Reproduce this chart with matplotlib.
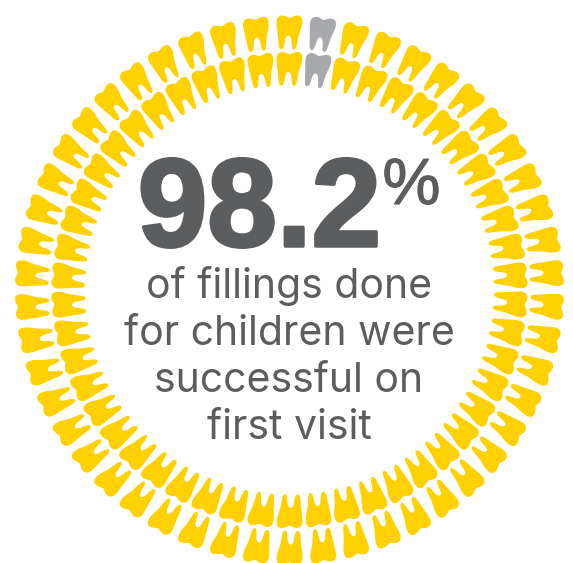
import numpy as np
import matplotlib.pyplot as plt
import matplotlib.patheffects as pe
from matplotlib.path import Path
from matplotlib.patches import PathPatch
from matplotlib.transforms import Affine2D

plt.rcParams['font.family'] = ['Inter', 'Liberation Sans', 'DejaVu Sans']

# teeth per ring, outer then inner, and how many of them are grey
ring_counts = [50, 50]
grey_counts = [1, 1]
share = '98.2'
caption = ['of fillings done', 'for children were', 'successful on', 'first visit']

YELLOW = '#ffd100'
GREY = '#a7a9ac'
DARK = '#5c5d5f'

W, H = 573, 563
CX, CY = 289.5, 290
RADII = [257.5, 221]

# one tooth, crown pointing up, roots down, around the origin
tooth_pts = [
    (0, 14.6),
    (2.5, 15.4), (5, 17), (8, 17),
    (11.5, 17), (13, 14.5), (12.8, 10.5),
    (12.6, 5.5), (10.6, 2), (9.2, -3),
    (8, -8), (7.6, -17), (4.6, -17),
    (2, -17), (2.4, -11), (1.8, -7.5),
    (1.4, -5), (0.6, -3), (-1.4, -3),
    (-3.4, -3), (-3.8, -5.5), (-4.4, -8),
    (-5, -11), (-5.4, -16.6), (-8.2, -16.6),
    (-11.4, -16.6), (-11, -9), (-11.6, -4),
    (-12.2, 1), (-13, 6), (-13, 10.5),
    (-13, 14.5), (-10.5, 17), (-7, 17),
    (-4.5, 17), (-2.5, 15.4), (0, 14.6),
]
tooth_codes = [Path.MOVETO] + [Path.CURVE4] * (len(tooth_pts) - 1)
tooth = Path(tooth_pts, tooth_codes)

fig = plt.figure(figsize=(W / 100, H / 100), dpi=100)
ax = fig.add_axes([0, 0, 1, 1])
ax.set_xlim(0, W)
ax.set_ylim(H, 0)
ax.axis('off')


def draw_ring(radius, count, grey):
    step = 360 / count
    for i in range(count):
        # i = 0 sits at twelve o'clock, grey teeth run clockwise from i = 1
        ang = i * step
        rad = np.radians(ang)
        x = CX + radius * np.sin(rad)
        y = CY - radius * np.cos(rad)
        colour = GREY if 1 <= i <= grey else YELLOW
        # y axis is flipped, so flip the shape before turning it
        tr = Affine2D().scale(1, -1).rotate_deg(ang).translate(x, y)
        ax.add_patch(PathPatch(tooth.transformed(tr), fc=colour, ec='none'))


for radius, count, grey in zip(RADII, ring_counts, grey_counts):
    draw_ring(radius, count, grey)

big = ax.text(259.5, 214, share, fontsize=90, fontweight='bold', color=DARK,
              family='Liberation Sans', ha='center', va='center')
big.set_path_effects([pe.withStroke(linewidth=2.5, foreground=DARK)])
pct = ax.text(411.5, 187, '%', fontsize=47, color=DARK, family='Liberation Sans',
              ha='center', va='center')
pct.set_path_effects([pe.withStroke(linewidth=0.8, foreground=DARK)])

line_y = [286, 334, 381, 428]
for line, y in zip(caption, line_y):
    ax.text(289, y, line, fontsize=29.5, color=DARK, ha='center', va='center')

fig.savefig('out.png', dpi=100)
